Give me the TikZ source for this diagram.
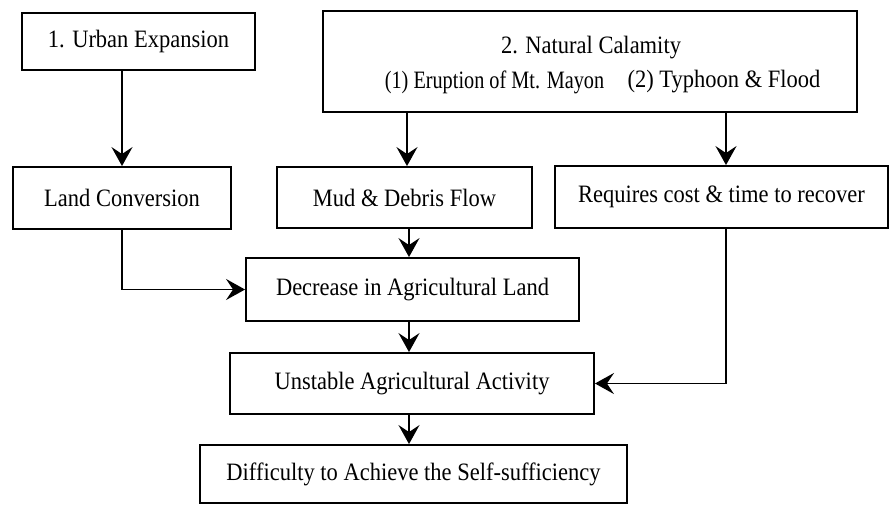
\documentclass[tikz,border=0pt]{standalone}
\usepackage{fontspec}
\usepackage{graphicx}
\setmainfont{Liberation Serif}[FakeStretch=0.9]
\usetikzlibrary{arrows.meta}
\begin{document}
\begin{tikzpicture}[x=1pt,y=-1pt,
  box/.style={draw, line width=1.9pt, rectangle, inner sep=0pt, font=\fontsize{25}{29}\selectfont},
  lbl/.style={inner sep=0pt, font=\fontsize{25}{29}\selectfont},
  arr/.style={line width=1.9pt, -{Stealth[length=19pt,width=21pt,inset=7pt]}}]
\useasboundingbox (0,0) rectangle (890,504);

\node[box, minimum width=233pt, minimum height=57pt] (urban) at (138.5,41.5) {1. Urban Expansion};
\node[box, minimum width=534pt, minimum height=101pt] (nc) at (590,61.5) {};
\node[lbl] (nct) at (591,48) {2. Natural Calamity};
\node[lbl] (nc1) at (494.5,82) {\scalebox{0.9}[1]{(1) Eruption of Mt. Mayon}};
\node[lbl] (nc2) at (724,82) {(2) Typhoon \& Flood};
\node[box, minimum width=218pt, minimum height=62pt] (land) at (122,198) {Land Conversion};
\node[box, minimum width=255pt, minimum height=61pt] (mud) at (404.5,197.5) {Mud \& Debris Flow};
\node[box, minimum width=333pt, minimum height=62pt] (req) at (721.5,197) {Requires cost \& time to recover};
\node[box, minimum width=333pt, minimum height=63pt] (dec) at (412.5,289.5) {Decrease in Agricultural Land};
\node[box, minimum width=364pt, minimum height=61pt] (unst) at (412,383.5) {Unstable Agricultural Activity};
\node[box, minimum width=427pt, minimum height=58pt] (diff) at (413.5,474) {Difficulty to Achieve the Self-sufficiency};

\coordinate (xa) at (407,0);
\coordinate (xb) at (409,0);
\coordinate (xc) at (726,0);

\draw[arr] (urban.south -| land.north) -- (land.north);
\draw[arr] (nc.south -| xa) -- (mud.north -| xa);
\draw[arr] (nc.south -| xc) -- (req.north -| xc);
\draw[arr] (land.south) |- (dec.west);
\draw[arr] (mud.south -| xb) -- (dec.north -| xb);
\draw[arr] (req.south -| xc) |- (unst.east);
\draw[arr] (dec.south -| xb) -- (unst.north -| xb);
\draw[arr] (unst.south -| xb) -- (diff.north -| xb);
\end{tikzpicture}
\end{document}
